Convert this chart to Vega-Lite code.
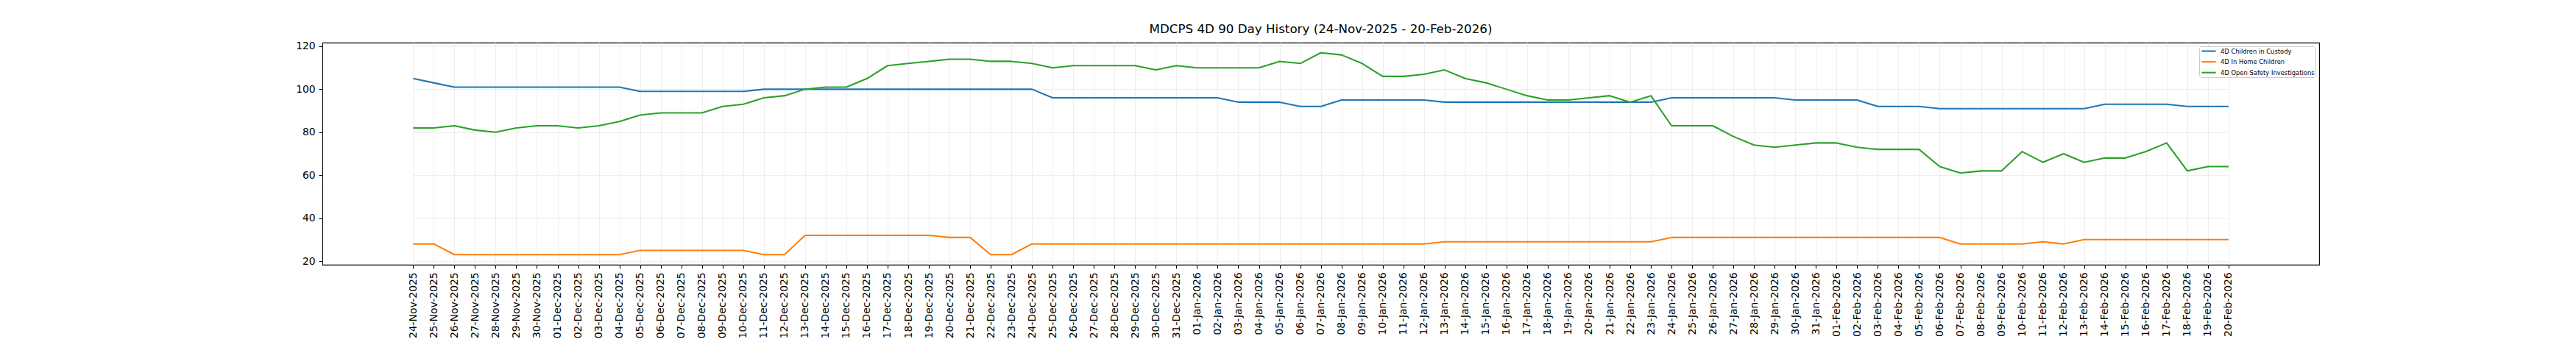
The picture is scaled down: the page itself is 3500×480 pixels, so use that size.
{
  "$schema": "https://vega.github.io/schema/vega-lite/v6.json",
  "width": 2713,
  "height": 302,
  "autosize": {"type": "none"},
  "padding": {"left": 438, "top": 58, "right": 349, "bottom": 120},
  "title": {"text": "MDCPS 4D 90 Day History (24-Nov-2025 - 20-Feb-2026)", "fontSize": 16.7, "fontWeight": "normal", "font": "DejaVu Sans", "color": "black", "offset": 7, "anchor": "middle"},
  "data": {"values": [
    {"date":"24-Nov-2025","custody":105,"inhome":28,"open":82},
    {"date":"25-Nov-2025","custody":103,"inhome":28,"open":82},
    {"date":"26-Nov-2025","custody":101,"inhome":23,"open":83},
    {"date":"27-Nov-2025","custody":101,"inhome":23,"open":81},
    {"date":"28-Nov-2025","custody":101,"inhome":23,"open":80},
    {"date":"29-Nov-2025","custody":101,"inhome":23,"open":82},
    {"date":"30-Nov-2025","custody":101,"inhome":23,"open":83},
    {"date":"01-Dec-2025","custody":101,"inhome":23,"open":83},
    {"date":"02-Dec-2025","custody":101,"inhome":23,"open":82},
    {"date":"03-Dec-2025","custody":101,"inhome":23,"open":83},
    {"date":"04-Dec-2025","custody":101,"inhome":23,"open":85},
    {"date":"05-Dec-2025","custody":99,"inhome":25,"open":88},
    {"date":"06-Dec-2025","custody":99,"inhome":25,"open":89},
    {"date":"07-Dec-2025","custody":99,"inhome":25,"open":89},
    {"date":"08-Dec-2025","custody":99,"inhome":25,"open":89},
    {"date":"09-Dec-2025","custody":99,"inhome":25,"open":92},
    {"date":"10-Dec-2025","custody":99,"inhome":25,"open":93},
    {"date":"11-Dec-2025","custody":100,"inhome":23,"open":96},
    {"date":"12-Dec-2025","custody":100,"inhome":23,"open":97},
    {"date":"13-Dec-2025","custody":100,"inhome":32,"open":100},
    {"date":"14-Dec-2025","custody":100,"inhome":32,"open":101},
    {"date":"15-Dec-2025","custody":100,"inhome":32,"open":101},
    {"date":"16-Dec-2025","custody":100,"inhome":32,"open":105},
    {"date":"17-Dec-2025","custody":100,"inhome":32,"open":111},
    {"date":"18-Dec-2025","custody":100,"inhome":32,"open":112},
    {"date":"19-Dec-2025","custody":100,"inhome":32,"open":113},
    {"date":"20-Dec-2025","custody":100,"inhome":31,"open":114},
    {"date":"21-Dec-2025","custody":100,"inhome":31,"open":114},
    {"date":"22-Dec-2025","custody":100,"inhome":23,"open":113},
    {"date":"23-Dec-2025","custody":100,"inhome":23,"open":113},
    {"date":"24-Dec-2025","custody":100,"inhome":28,"open":112},
    {"date":"25-Dec-2025","custody":96,"inhome":28,"open":110},
    {"date":"26-Dec-2025","custody":96,"inhome":28,"open":111},
    {"date":"27-Dec-2025","custody":96,"inhome":28,"open":111},
    {"date":"28-Dec-2025","custody":96,"inhome":28,"open":111},
    {"date":"29-Dec-2025","custody":96,"inhome":28,"open":111},
    {"date":"30-Dec-2025","custody":96,"inhome":28,"open":109},
    {"date":"31-Dec-2025","custody":96,"inhome":28,"open":111},
    {"date":"01-Jan-2026","custody":96,"inhome":28,"open":110},
    {"date":"02-Jan-2026","custody":96,"inhome":28,"open":110},
    {"date":"03-Jan-2026","custody":94,"inhome":28,"open":110},
    {"date":"04-Jan-2026","custody":94,"inhome":28,"open":110},
    {"date":"05-Jan-2026","custody":94,"inhome":28,"open":113},
    {"date":"06-Jan-2026","custody":92,"inhome":28,"open":112},
    {"date":"07-Jan-2026","custody":92,"inhome":28,"open":117},
    {"date":"08-Jan-2026","custody":95,"inhome":28,"open":116},
    {"date":"09-Jan-2026","custody":95,"inhome":28,"open":112},
    {"date":"10-Jan-2026","custody":95,"inhome":28,"open":106},
    {"date":"11-Jan-2026","custody":95,"inhome":28,"open":106},
    {"date":"12-Jan-2026","custody":95,"inhome":28,"open":107},
    {"date":"13-Jan-2026","custody":94,"inhome":29,"open":109},
    {"date":"14-Jan-2026","custody":94,"inhome":29,"open":105},
    {"date":"15-Jan-2026","custody":94,"inhome":29,"open":103},
    {"date":"16-Jan-2026","custody":94,"inhome":29,"open":100},
    {"date":"17-Jan-2026","custody":94,"inhome":29,"open":97},
    {"date":"18-Jan-2026","custody":94,"inhome":29,"open":95},
    {"date":"19-Jan-2026","custody":94,"inhome":29,"open":95},
    {"date":"20-Jan-2026","custody":94,"inhome":29,"open":96},
    {"date":"21-Jan-2026","custody":94,"inhome":29,"open":97},
    {"date":"22-Jan-2026","custody":94,"inhome":29,"open":94},
    {"date":"23-Jan-2026","custody":94,"inhome":29,"open":97},
    {"date":"24-Jan-2026","custody":96,"inhome":31,"open":83},
    {"date":"25-Jan-2026","custody":96,"inhome":31,"open":83},
    {"date":"26-Jan-2026","custody":96,"inhome":31,"open":83},
    {"date":"27-Jan-2026","custody":96,"inhome":31,"open":78},
    {"date":"28-Jan-2026","custody":96,"inhome":31,"open":74},
    {"date":"29-Jan-2026","custody":96,"inhome":31,"open":73},
    {"date":"30-Jan-2026","custody":95,"inhome":31,"open":74},
    {"date":"31-Jan-2026","custody":95,"inhome":31,"open":75},
    {"date":"01-Feb-2026","custody":95,"inhome":31,"open":75},
    {"date":"02-Feb-2026","custody":95,"inhome":31,"open":73},
    {"date":"03-Feb-2026","custody":92,"inhome":31,"open":72},
    {"date":"04-Feb-2026","custody":92,"inhome":31,"open":72},
    {"date":"05-Feb-2026","custody":92,"inhome":31,"open":72},
    {"date":"06-Feb-2026","custody":91,"inhome":31,"open":64},
    {"date":"07-Feb-2026","custody":91,"inhome":28,"open":61},
    {"date":"08-Feb-2026","custody":91,"inhome":28,"open":62},
    {"date":"09-Feb-2026","custody":91,"inhome":28,"open":62},
    {"date":"10-Feb-2026","custody":91,"inhome":28,"open":71},
    {"date":"11-Feb-2026","custody":91,"inhome":29,"open":66},
    {"date":"12-Feb-2026","custody":91,"inhome":28,"open":70},
    {"date":"13-Feb-2026","custody":91,"inhome":30,"open":66},
    {"date":"14-Feb-2026","custody":93,"inhome":30,"open":68},
    {"date":"15-Feb-2026","custody":93,"inhome":30,"open":68},
    {"date":"16-Feb-2026","custody":93,"inhome":30,"open":71},
    {"date":"17-Feb-2026","custody":93,"inhome":30,"open":75},
    {"date":"18-Feb-2026","custody":92,"inhome":30,"open":62},
    {"date":"19-Feb-2026","custody":92,"inhome":30,"open":64},
    {"date":"20-Feb-2026","custody":92,"inhome":30,"open":64}
  ]},
  "transform": [{"fold": ["custody", "inhome", "open"], "as": ["series", "value"]}],
  "mark": {"type": "line", "strokeWidth": 2.08, "strokeJoin": "round"},
  "encoding": {
    "x": {
      "field": "date", "type": "ordinal", "sort": null,
      "scale": {"type": "point", "padding": 0, "range": [123.3, 2589.9]},
      "axis": {"title": null, "labelAngle": -90, "labelFontSize": 13.9, "labelFont": "DejaVu Sans", "labelColor": "black", "tickSize": 4.9, "tickColor": "black", "tickWidth": 1.1, "labelPadding": 4.9, "domain": false, "grid": true, "gridColor": "#eeeeee", "gridWidth": 1, "labelOverlap": false}
    },
    "y": {
      "field": "value", "type": "quantitative",
      "scale": {"domain": [18.3, 121.7], "nice": false, "zero": false},
      "axis": {"title": null, "values": [20, 40, 60, 80, 100, 120], "labelFontSize": 13.9, "labelFont": "DejaVu Sans", "labelColor": "black", "tickSize": 4.9, "tickColor": "black", "tickWidth": 1.1, "labelPadding": 4.9, "domain": false, "grid": true, "gridColor": "#eeeeee", "gridWidth": 1}
    },
    "color": {
      "field": "series", "type": "nominal",
      "scale": {"domain": ["custody", "inhome", "open"], "range": ["#1f77b4", "#ff7f0e", "#2ca02c"]},
      "legend": {
        "title": null, "orient": "none", "legendX": 2550, "legendY": 5,
        "labelExpr": "datum.label == 'custody' ? '4D Children in Custody' : datum.label == 'inhome' ? '4D In Home Children' : '4D Open Safety Investigations'",
        "symbolType": "M-2.4,0H2.4", "symbolSize": 64, "symbolStrokeWidth": 2.08, "symbolOffset": 6.5,
        "labelFontSize": 8.4, "labelFont": "DejaVu Sans", "labelColor": "black", "labelOffset": 10.5,
        "rowPadding": 4.6, "padding": 1, "cornerRadius": 3,
        "strokeColor": "#cccccc", "fillColor": "white"
      }
    }
  },
  "config": {"view": {"stroke": "black", "strokeWidth": 1.1}, "font": "DejaVu Sans"}
}
